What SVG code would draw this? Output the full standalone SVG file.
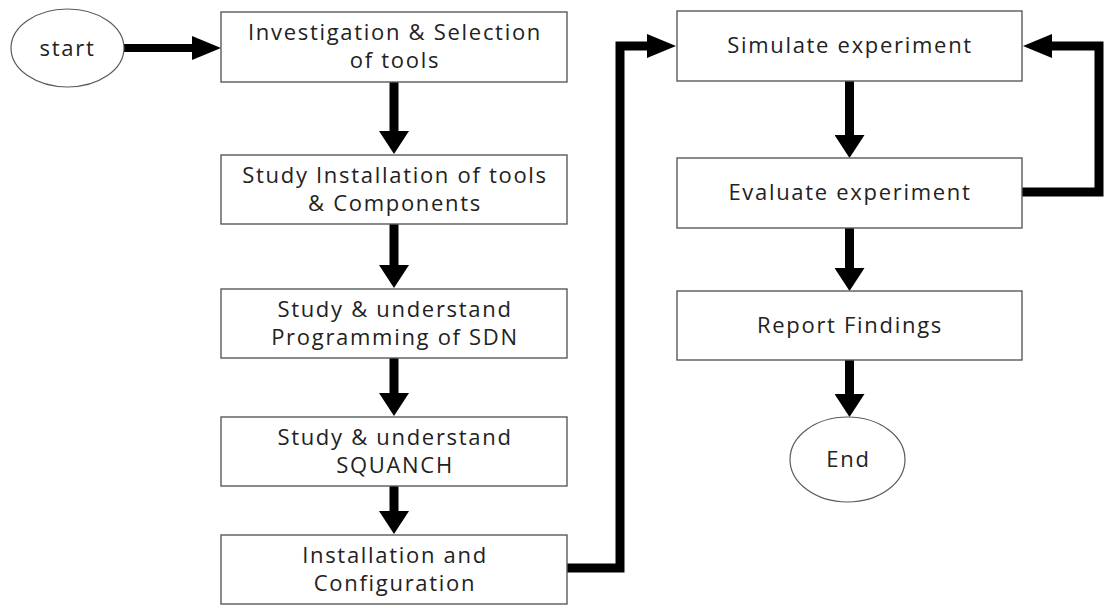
<svg xmlns="http://www.w3.org/2000/svg" width="1104" height="605" viewBox="0 0 1104 605">
  <style>
    .box { fill: #ffffff; stroke: #5a5a5a; stroke-width: 1.4; }
    .oval { fill: #ffffff; stroke: #5a5a5a; stroke-width: 1.2; }
    .lbl { font-family: "Open Sans", "Noto Sans", "DejaVu Sans", sans-serif; font-size: 22px; fill: #222222; text-anchor: middle; letter-spacing: 1.7px; }
    .flow { fill: none; stroke: #000000; stroke-width: 9; stroke-linejoin: miter; }
  </style>
  <defs>
    <!-- arrowheads: base sits at path end, tip points forward -->
    <marker id="headV" markerUnits="userSpaceOnUse" markerWidth="23" markerHeight="30" viewBox="0 0 23 30" refX="0" refY="15" orient="auto">
      <path d="M0,0 L23,15 L0,30 Z" fill="#000000"/>
    </marker>
    <marker id="headH" markerUnits="userSpaceOnUse" markerWidth="29" markerHeight="24" viewBox="0 0 29 24" refX="0" refY="12" orient="auto">
      <path d="M0,0 L29,12 L0,24 Z" fill="#000000"/>
    </marker>
  </defs>

  <rect width="1104" height="605" fill="#ffffff"/>

  <!-- connectors -->
  <g id="connectors">
    <path class="flow" style="stroke-width:8" d="M124,48 H192" marker-end="url(#headH)"/>
    <path class="flow" d="M394,82 V131" marker-end="url(#headV)"/>
    <path class="flow" d="M394,224 V265" marker-end="url(#headV)"/>
    <path class="flow" d="M394,358 V393" marker-end="url(#headV)"/>
    <path class="flow" d="M394,486 V511" marker-end="url(#headV)"/>
    <path class="flow" d="M567,568 H620 V46 H647" marker-end="url(#headH)"/>
    <path class="flow" d="M849.5,81 V135" marker-end="url(#headV)"/>
    <path class="flow" d="M1022,192 H1099 V46 H1052" marker-end="url(#headH)"/>
    <path class="flow" d="M849.5,228 V268" marker-end="url(#headV)"/>
    <path class="flow" d="M849.5,360 V394" marker-end="url(#headV)"/>
  </g>

  <g id="start">
    <ellipse class="oval" cx="67.5" cy="48" rx="56.5" ry="39"/>
    <text class="lbl" x="67.5" y="56">start</text>
  </g>

  <g id="investigation">
    <rect class="box" x="221" y="12" width="346" height="70"/>
    <text class="lbl" x="395" y="40">Investigation &amp; Selection</text>
    <text class="lbl" x="395" y="68">of tools</text>
  </g>

  <g id="study-installation">
    <rect class="box" x="221" y="155" width="346" height="69"/>
    <text class="lbl" x="395" y="183">Study Installation of tools</text>
    <text class="lbl" x="395" y="211">&amp; Components</text>
  </g>

  <g id="study-sdn">
    <rect class="box" x="221" y="289" width="346" height="69"/>
    <text class="lbl" x="395" y="317">Study &amp; understand</text>
    <text class="lbl" x="395" y="345">Programming of SDN</text>
  </g>

  <g id="study-squanch">
    <rect class="box" x="221" y="417" width="346" height="69"/>
    <text class="lbl" x="395" y="445">Study &amp; understand</text>
    <text class="lbl" x="395" y="473">SQUANCH</text>
  </g>

  <g id="installation">
    <rect class="box" x="221" y="535" width="346" height="69"/>
    <text class="lbl" x="395" y="563">Installation and</text>
    <text class="lbl" x="395" y="591">Configuration</text>
  </g>

  <g id="simulate">
    <rect class="box" x="677" y="11" width="345" height="70"/>
    <text class="lbl" x="850" y="53">Simulate experiment</text>
  </g>

  <g id="evaluate">
    <rect class="box" x="677" y="158" width="345" height="70"/>
    <text class="lbl" x="850" y="200">Evaluate experiment</text>
  </g>

  <g id="report">
    <rect class="box" x="677" y="291" width="345" height="69"/>
    <text class="lbl" x="850" y="333">Report Findings</text>
  </g>

  <g id="end">
    <ellipse class="oval" cx="847.5" cy="459.5" rx="57.5" ry="42.5"/>
    <text class="lbl" x="848.5" y="467">End</text>
  </g>
</svg>
